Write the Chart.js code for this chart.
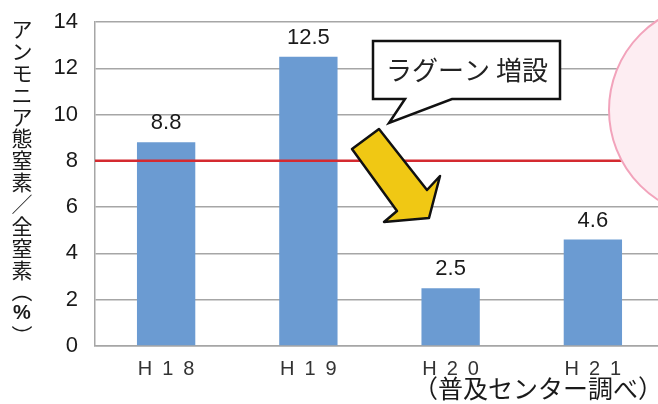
<!DOCTYPE html>
<html>
<head>
<meta charset="utf-8">
<script src="https://cdn.jsdelivr.net/npm/chart.js@4.4.1/dist/chart.umd.min.js"></script>
<style>
  html, body { margin: 0; padding: 0; overflow: hidden; background: #fff; }
  #wrap { width: 680px; height: 404px; }
</style>
</head>
<body>
<div id="wrap"><canvas id="ammoniaChart"></canvas></div>
<script>
// アンモニア態窒素／全窒素 の推移
var years = ['H18', 'H19', 'H20', 'H21'];
var ratio = [8.8, 12.5, 2.5, 4.6];
var yTicks = [0, 2, 4, 6, 8, 10, 12, 14];
var threshold = 8;

var yTitle = 'アンモニア態窒素／全窒素（%）';
var note = '（普及センター調べ）';
var callout = 'ラグーン 増設';

// spread the category labels like the original
function spaced(s) {
  return Array.from(s).join('\u2002');
}

// extra drawing: value labels, red line, bubble, arrow, titles
var extras = {
  id: 'extras',
  afterDatasetsDraw: function (chart) {
    var ctx = chart.ctx, area = chart.chartArea, y = chart.scales.y;

    // red reference line
    var ry = y.getPixelForValue(threshold);
    ctx.save();
    ctx.strokeStyle = '#d42a30';
    ctx.lineWidth = 2.5;
    ctx.beginPath();
    ctx.moveTo(area.left, ry);
    ctx.lineTo(area.right, ry);
    ctx.stroke();
    ctx.restore();

    // value labels
    var meta = chart.getDatasetMeta(0);
    ctx.save();
    ctx.font = '22px "Liberation Sans", Arial, sans-serif';
    ctx.fillStyle = '#1a1a1a';
    ctx.textAlign = 'center';
    ctx.textBaseline = 'alphabetic';
    meta.data.forEach(function (bar, i) {
      ctx.fillText(ratio[i].toFixed(1), bar.x, bar.y - 13);
    });
    ctx.restore();

    // pink circle at right
    ctx.save();
    ctx.beginPath();
    ctx.arc(716, 110, 107, 0, Math.PI * 2);
    ctx.fillStyle = '#fdedf2';
    ctx.fill();
    ctx.strokeStyle = '#f2a3bb';
    ctx.lineWidth = 2;
    ctx.stroke();
    ctx.restore();

    // callout box
    ctx.save();
    ctx.beginPath();
    ctx.moveTo(373, 41);
    ctx.lineTo(560, 41);
    ctx.lineTo(560, 99);
    ctx.lineTo(452, 99);
    ctx.lineTo(389, 123);
    ctx.lineTo(405, 99);
    ctx.lineTo(373, 99);
    ctx.closePath();
    ctx.fillStyle = '#fff';
    ctx.fill();
    ctx.strokeStyle = '#111';
    ctx.lineWidth = 2.5;
    ctx.lineJoin = 'miter';
    ctx.stroke();
    ctx.font = '26px "Noto Sans CJK JP", sans-serif';
    ctx.fillStyle = '#222';
    ctx.textAlign = 'center';
    ctx.textBaseline = 'middle';
    ctx.fillText(callout, 467, 70);
    ctx.restore();

    // yellow arrow
    ctx.save();
    ctx.beginPath();
    ctx.moveTo(379, 129);
    ctx.lineTo(427, 190);
    ctx.lineTo(440, 176);
    ctx.lineTo(429, 218);
    ctx.lineTo(384, 222);
    ctx.lineTo(397, 211);
    ctx.lineTo(352, 149);
    ctx.closePath();
    ctx.fillStyle = '#f0c814';
    ctx.fill();
    ctx.strokeStyle = '#111';
    ctx.lineWidth = 2.5;
    ctx.lineJoin = 'round';
    ctx.stroke();
    ctx.restore();
  },
  afterDraw: function (chart) {
    var ctx = chart.ctx;
    // vertical y-axis title, brackets turned sideways
    ctx.save();
    ctx.font = '21px "Noto Sans CJK JP", sans-serif';
    ctx.fillStyle = '#1a1a1a';
    ctx.textAlign = 'center';
    ctx.textBaseline = 'middle';
    Array.from(yTitle).forEach(function (ch, i) {
      var cy = 29 + i * 21.9;
      if (ch === '（' || ch === '）') {
        ctx.save();
        ctx.translate(22, cy);
        ctx.rotate(Math.PI / 2);
        ctx.fillText(ch, 0, 0);
        ctx.restore();
      } else if (ch === '%') {
        ctx.save();
        ctx.font = 'bold 20px "Liberation Sans", Arial, sans-serif';
        ctx.fillText(ch, 22, cy);
        ctx.restore();
      } else {
        ctx.fillText(ch, 22, cy);
      }
    });
    // source note
    ctx.font = '25px "Noto Sans CJK JP", sans-serif';
    ctx.textAlign = 'left';
    ctx.fillText(note, 413, 388);
    ctx.restore();
  }
};

var chart = new Chart(document.getElementById('ammoniaChart'), {
  type: 'bar',
  data: {
    labels: years,
    datasets: [{
      data: ratio,
      backgroundColor: '#6b9bd2',
      borderWidth: 0,
      categoryPercentage: 1,
      barPercentage: 0.41
    }]
  },
  options: {
    responsive: true,
    maintainAspectRatio: false,
    animation: false,
    layout: { padding: { top: 22, right: 16, left: 0, bottom: 0 } },
    plugins: { legend: { display: false }, tooltip: { enabled: false } },
    scales: {
      x: {
        grid: { display: false, drawTicks: false },
        border: { color: '#a6a6a6', width: 1.5 },
        ticks: {
          padding: 11,
          color: '#333',
          font: { family: '"Liberation Sans", Arial, sans-serif', size: 20 },
          callback: function (v, i) { return spaced(years[i]); }
        },
        afterFit: function (scale) { scale.height = 58; }
      },
      y: {
        min: 0,
        max: 14,
        afterBuildTicks: function (scale) {
          scale.ticks = yTicks.map(function (v) { return { value: v }; });
        },
        // invisible tick marks give the label gap without padding the top
        grid: { color: '#a6a6a6', lineWidth: 1.5, drawTicks: true, tickLength: 17, tickColor: 'rgba(0,0,0,0)' },
        border: { color: '#a6a6a6', width: 1.5 },
        ticks: {
          padding: 0,
          color: '#1a1a1a',
          font: { family: '"Liberation Sans", Arial, sans-serif', size: 22 }
        },
        afterFit: function (scale) { scale.width = 95; }
      }
    }
  },
  plugins: [extras]
});

// nudge the plot area onto the original frame (top 22, right 664)
var pad = chart.options.layout.padding;
pad.top -= chart.chartArea.top - 22;
pad.right += chart.chartArea.right - 664;
chart.update();
</script>
</body>
</html>
